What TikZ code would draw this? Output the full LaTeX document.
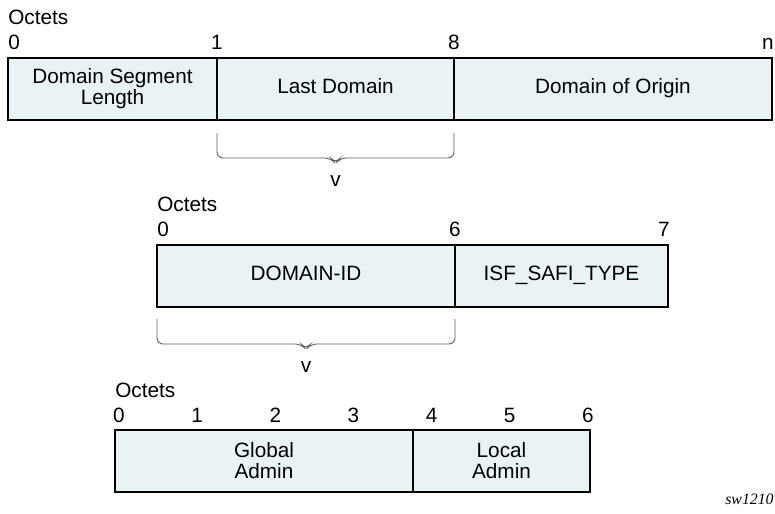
\documentclass[tikz,border=0pt]{standalone}
\usepackage{fontspec}
\setmainfont{Liberation Sans}
\newfontfamily\tagfont{Liberation Serif}
\usetikzlibrary{positioning,calc}
\definecolor{cellfill}{RGB}{233,243,245}
\definecolor{bracegray}{RGB}{90,90,90}

\begin{document}
\begin{tikzpicture}[font=\fontsize{11.8}{12}\selectfont,
 cell/.style={draw=black,line width=1.1pt,fill=cellfill,minimum height=1.24cm,inner sep=0pt,align=center},
 line1/.style={cell,text height=0.72em,text depth=0.2em},
 num/.style={anchor=base,inner sep=0pt},
 brc/.style={draw=bracegray,line width=0.5pt,rounded corners=3.5pt}]
\useasboundingbox (0,0) rectangle (15.5,-10.28);
% first format
\node[num,anchor=base west] (oct1) at (0.16,-0.50) {Octets};
\node[num,anchor=base west] (t0) at (0.16,-1.00) {0};
\node[num] (t1) at (4.34,-1.00) {1};
\node[num] (t8) at (9.08,-1.00) {8};
\node[num,anchor=base east] (tn) at (15.48,-1.00) {n};
\node[cell,minimum width=4.18cm] (dsl) at (2.25,-1.78) {Domain Segment\\Length};
\node[line1,minimum width=4.74cm] (last) at (6.71,-1.78) {Last Domain};
\node[line1,minimum width=6.36cm] (orig) at (12.26,-1.78) {Domain of Origin};
\draw[brc] (4.34,-2.66) -- (4.34,-3.16) -- (6.62,-3.16) -- (6.71,-3.27) -- (6.80,-3.16) -- (9.08,-3.16) -- (9.08,-2.66);
\node[num] (v1) at (6.71,-3.72) {v};
% second format
\node[num,anchor=base west] (oct2) at (3.14,-4.22) {Octets};
\node[num,anchor=base west] (m0) at (3.14,-4.73) {0};
\node[num] (m6) at (9.10,-4.73) {6};
\node[num,anchor=base east] (m7) at (13.40,-4.73) {7};
\node[line1,minimum width=5.96cm] (domid) at (6.12,-5.52) {DOMAIN-ID};
\node[line1,minimum width=4.26cm] (isf) at (11.23,-5.52) {ISF\_SAFI\_TYPE};
\draw[brc] (3.14,-6.38) -- (3.14,-6.88) -- (6.03,-6.88) -- (6.12,-6.99) -- (6.21,-6.88) -- (9.10,-6.88) -- (9.10,-6.38);
\node[num] (v2) at (6.12,-7.44) {v};
% third format
\node[num,anchor=base west] (oct3) at (2.30,-7.94) {Octets};
\foreach \i in {0,...,6}
  \node[num] (b\i) at ({2.38+1.563*\i},-8.44) {\i};
\node[cell,minimum width=5.96cm] (glob) at (5.28,-9.22) {Global\\Admin};
\node[cell,minimum width=3.54cm] (loc) at (10.03,-9.22) {Local\\Admin};
\node[num,anchor=base east,font=\tagfont\itshape\fontsize{9}{10}\selectfont] (tag) at (15.48,-10.08) {sw1210};
\end{tikzpicture}
\end{document}
